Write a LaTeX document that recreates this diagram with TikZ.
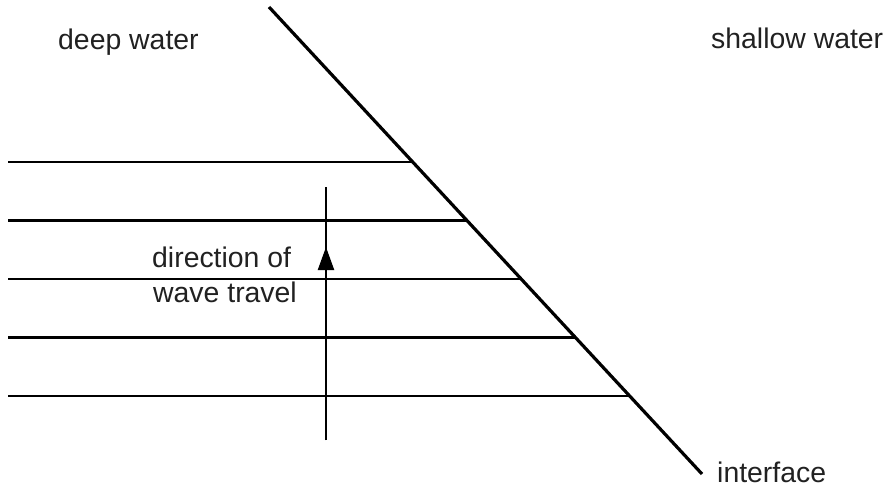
\documentclass[tikz,border=0pt]{standalone}
\usepackage{fontspec}
\setmainfont{Liberation Sans}
\usetikzlibrary{arrows.meta}
\definecolor{txt}{rgb}{0.13,0.13,0.13}
\begin{document}
\begin{tikzpicture}[x=1pt,y=-1pt,
  lbl/.style={anchor=base west,inner sep=0pt,text=txt,font=\fontsize{28.4}{34}\selectfont},
  wave/.style={line width=2.3pt},
  iface/.style={line width=3.2pt},
  dirline/.style={line width=2.2pt}]
\useasboundingbox (0,0) rectangle (891,488);
% interface
\coordinate (itop) at (269,7);
\coordinate (ibot) at (702,474);
\draw[iface] (itop) -- (ibot);
% wavefronts
\coordinate (w1a) at (8,162);   \coordinate (w1b) at (412.7,162);
\coordinate (w2a) at (8,220.5); \coordinate (w2b) at (466.9,220.5);
\coordinate (w3a) at (8,279);   \coordinate (w3b) at (521.2,279);
\coordinate (w4a) at (8,337.5); \coordinate (w4b) at (575.4,337.5);
\coordinate (w5a) at (8,396);   \coordinate (w5b) at (629.7,396);
\foreach \i in {1,...,5} \draw[wave] (w\i a) -- (w\i b);
% direction arrow
\coordinate (abot) at (326,440);
\coordinate (atop) at (326,187);
\coordinate (atip) at (326,247);
\draw[dirline] (abot) -- (atop);
\draw[dirline,-{Triangle[length=23pt,width=16pt]}] (abot) -- (atip);
% labels
\node[lbl] (deep) at (58,49) {deep water};
\node[lbl] (shallow) at (711,48) {shallow water};
\node[lbl] (dir1) at (152,267) {direction of};
\node[lbl] (dir2) at (153,302) {wave travel};
\node[lbl] (ilab) at (717,482) {interface};
\end{tikzpicture}
\end{document}
